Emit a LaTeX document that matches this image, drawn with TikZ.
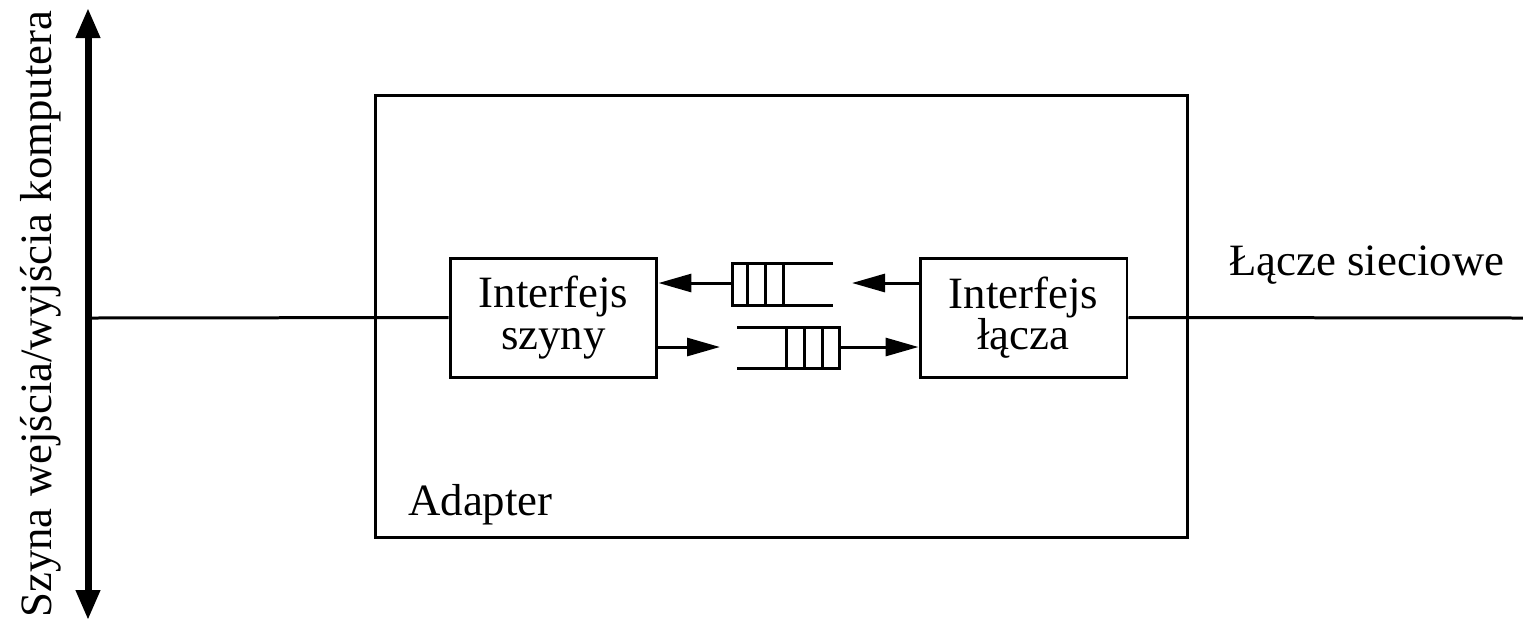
\documentclass[tikz,border=0pt]{standalone}
\usepackage{fontspec}
\setmainfont{Liberation Serif}
\usetikzlibrary{arrows.meta, positioning}

\begin{document}
\begin{tikzpicture}[x=0.02cm, y=-0.02cm,
    every node/.style={font=\rmfamily\fontsize{25.5}{23.5}\selectfont, inner sep=0pt},
    ifbox/.style={draw, line width=0.06cm, minimum width=4.14cm, minimum height=2.38cm, align=center},
    thinline/.style={line width=0.06cm},
    flow/.style={line width=0.06cm, -{Triangle[length=0.66cm, width=0.36cm]}},
    busline/.style={line width=0.14cm, {Triangle[length=0.6cm, width=0.46cm]}-{Triangle[length=0.6cm, width=0.46cm]}}]
  \useasboundingbox (0,0) rectangle (1523,627);

  % I/O bus of the computer
  \coordinate (bustop) at (88,8);
  \coordinate (busbot) at (88,620);
  \coordinate (busjoin) at (88,318);
  \draw[busline] (bustop) -- (busbot);
  \node[rotate=90, anchor=base west] (buslabel) at (51,618) {Szyna wejścia/wyjścia komputera};

  % Adapter with its two interfaces
  \node[draw, line width=0.06cm, minimum width=16.26cm, minimum height=8.86cm] (adapter) at (781.5,316.5) {};
  \node[anchor=base west] (adlabel) at (408,515) {Adapter};
  \node[ifbox] (busif) at (553.5,317.5) {Interfejs\\szyny};
  \node[ifbox] (linkif) at (1023.5,317.5) {Interfejs\\łącza};

  % Network link
  \coordinate (netend) at (1523,318);
  \node[anchor=base west] (netlabel) at (1229,275) {Łącze sieciowe};
  \draw[thinline] (busjoin) -- (busif.west);
  \draw[thinline] (linkif.east) -- (netend);

  % Incoming queue
  \draw[thinline] (833,263) -- (732,263) -- (732,305) -- (833,305);
  \foreach \x in {747,765,783} \draw[thinline] (\x,263) -- (\x,305);
  \coordinate (inqL) at (732,283);
  \coordinate (inqR) at (852,283);
  \draw[flow] (inqL) -- (inqL -| busif.east);
  \draw[flow] (inqR -| linkif.west) -- (inqR);

  % Outgoing queue
  \draw[thinline] (737,327) -- (839,327) -- (839,368) -- (737,368);
  \foreach \x in {786,804,822} \draw[thinline] (\x,327) -- (\x,368);
  \coordinate (outqL) at (720,347);
  \coordinate (outqR) at (839,347);
  \draw[flow] (outqL -| busif.east) -- (outqL);
  \draw[flow] (outqR) -- (outqR -| linkif.west);
\end{tikzpicture}
\end{document}
